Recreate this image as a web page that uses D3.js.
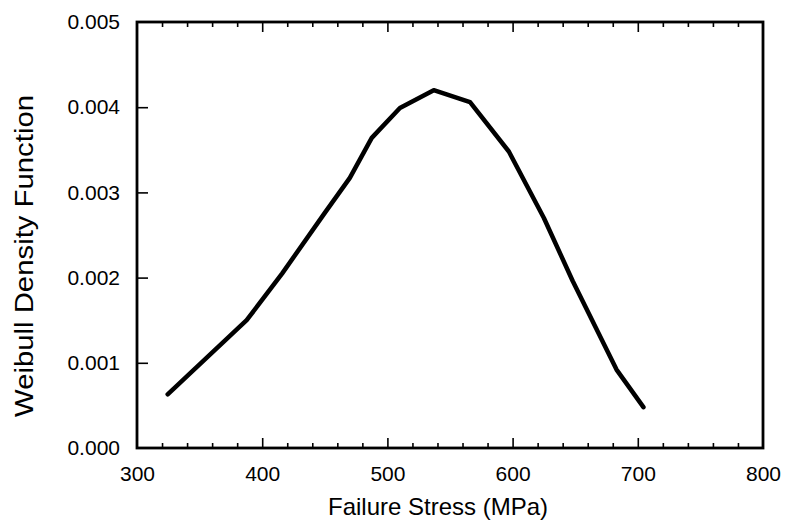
<!DOCTYPE html>
<html>
<head>
<meta charset="utf-8">
<script src="https://cdn.jsdelivr.net/npm/d3@7"></script>
<style>
  body { margin: 0; background: #fff; }
  svg { display: block; font-family: "Liberation Sans", Arial, Helvetica, sans-serif; }
  .axis path { display: none; }
  .axis line { stroke: #000; stroke-width: 1.6; }
  .axis text { fill: #000; font-size: 21px; }
</style>
</head>
<body>
<svg width="786" height="524"></svg>
<script>
// failure stress (MPa) and Weibull density
const stress  = [324.5, 387.6, 416, 450, 470, 487.5, 510, 537, 566, 597, 625, 648, 683, 704.5];
const density = [0.00063, 0.00150, 0.00205, 0.00276, 0.00317, 0.00364, 0.00399, 0.00420, 0.00406, 0.00348, 0.00270, 0.00196, 0.00092, 0.00048];

const xMajor = [300, 400, 500, 600, 700, 800];
const yMajor = [0, 0.001, 0.002, 0.003, 0.004, 0.005];

const svg = d3.select('svg');
const margin = { top: 22, right: 23, bottom: 76, left: 137 };
const w = 786 - margin.left - margin.right;
const h = 524 - margin.top - margin.bottom;

const x = d3.scaleLinear().domain([300, 800]).range([0, w]);
const y = d3.scaleLinear().domain([0, 0.005]).range([h, 0]);

const g = svg.append('g').attr('transform', `translate(${margin.left},${margin.top})`);

const xMinor = d3.range(300, 801, 20).filter(v => v % 100 !== 0);

// inward ticks, bottom and top
g.append('g').attr('class', 'axis').attr('transform', `translate(0,${h})`)
    .call(d3.axisBottom(x).tickValues(xMinor).tickSize(-5).tickFormat(''));
g.append('g').attr('class', 'axis').attr('transform', `translate(0,${h})`)
    .call(d3.axisBottom(x).tickValues(xMajor.slice(1, -1)).tickSize(-10).tickFormat(''));
g.append('g').attr('class', 'axis')
    .call(d3.axisTop(x).tickValues(xMinor).tickSize(-5).tickFormat(''));
g.append('g').attr('class', 'axis')
    .call(d3.axisTop(x).tickValues(xMajor.slice(1, -1)).tickSize(-10).tickFormat(''));

// left ticks
g.append('g').attr('class', 'axis')
    .call(d3.axisLeft(y).tickValues(yMajor.slice(1, -1)).tickSize(-11).tickFormat(''));

// labels
g.append('g').attr('class', 'axis').attr('transform', `translate(0,${h})`)
    .call(d3.axisBottom(x).tickValues(xMajor).tickSize(0).tickPadding(18).tickFormat(d3.format('d')));
g.append('g').attr('class', 'axis')
    .call(d3.axisLeft(y).tickValues(yMajor).tickSize(0).tickPadding(17).tickFormat(d3.format('.3f')));

// frame
g.append('rect')
    .attr('width', w).attr('height', h)
    .attr('fill', 'none').attr('stroke', '#000').attr('stroke-width', 2.8);

const line = d3.line().x((d, i) => x(stress[i])).y(d => y(d));

g.append('path')
    .datum(density)
    .attr('fill', 'none')
    .attr('stroke', '#000')
    .attr('stroke-width', 4.5)
    .attr('stroke-linejoin', 'round')
    .attr('stroke-linecap', 'round')
    .attr('d', line);

svg.append('text')
    .attr('x', 438).attr('y', 515)
    .attr('text-anchor', 'middle')
    .style('font-size', '24px')
    .text('Failure Stress (MPa)');

svg.append('text')
    .attr('transform', 'translate(33,256) rotate(-90)')
    .attr('text-anchor', 'middle')
    .style('font-size', '26px')
    .attr('textLength', 322)
    .attr('lengthAdjust', 'spacingAndGlyphs')
    .text('Weibull Density Function');
</script>
</body>
</html>
